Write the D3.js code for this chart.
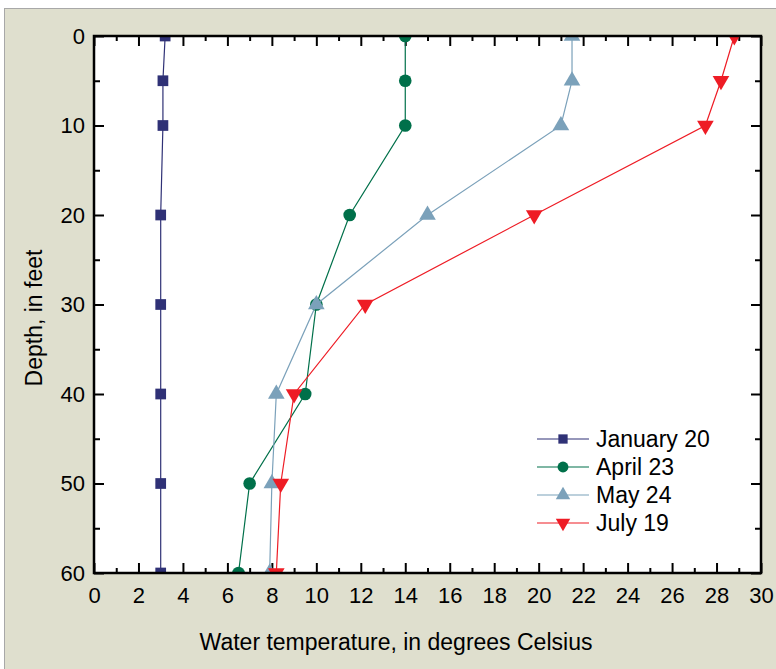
<!DOCTYPE html>
<html>
<head>
<meta charset="utf-8">
<script src="https://cdn.jsdelivr.net/npm/d3@7"></script>
<style>
  body { margin: 0; background: #fff; }
  text { font-family: "Liberation Sans", Arial, sans-serif; fill: #000; }
</style>
</head>
<body>
<div id="chart"></div>
<script>
// Depths sampled (feet) and temperature profiles (deg C)
const depths = [0, 5, 10, 20, 30, 40, 50, 60];
const january20 = [3.2, 3.1, 3.1, 3.0, 3.0, 3.0, 3.0, 3.0];
const april23 = [14.0, 14.0, 14.0, 11.5, 10.0, 9.5, 7.0, 6.5];
const may24 = [21.5, 21.5, 21.0, 15.0, 10.0, 8.2, 8.0, 7.9];
const july19 = [28.8, 28.2, 27.5, 19.8, 12.2, 9.0, 8.4, 8.2];
const seriesNames = ["January 20", "April 23", "May 24", "July 19"];
const xTicks = d3.range(0, 31, 2);
const yTicks = d3.range(0, 61, 10);

const svgWidth = 776;
const svgHeight = 669;
const margin = { top: 36, right: 15, bottom: 96, left: 94 };
const width = 761 - margin.left;
const height = 573 - margin.top;

const series = [
  { name: seriesNames[0], values: january20, color: "#2f3176", shape: d3.symbolSquare, size: 115, rot: 0 },
  { name: seriesNames[1], values: april23, color: "#00704a", shape: d3.symbolCircle, size: 125, rot: 0 },
  { name: seriesNames[2], values: may24, color: "#7ba1ba", shape: d3.symbolTriangle, size: 120, rot: 0 },
  { name: seriesNames[3], values: july19, color: "#ee1c25", shape: d3.symbolTriangle, size: 120, rot: 180 }
];

const svg = d3.select("#chart").append("svg")
  .attr("width", svgWidth)
  .attr("height", svgHeight);

// outer frame
svg.append("rect").attr("x", 0).attr("y", 0).attr("width", svgWidth).attr("height", svgHeight).attr("fill", "#fff");
svg.append("rect").attr("x", 4.5).attr("y", 8.5).attr("width", svgWidth).attr("height", svgHeight)
  .attr("fill", "#dfdfce").attr("stroke", "#a8a8a8").attr("stroke-width", 1);

const g = svg.append("g").attr("transform", `translate(${margin.left},${margin.top})`);

g.append("rect").attr("width", width).attr("height", height).attr("fill", "#fff");

const x = d3.scaleLinear().domain([0, 30]).range([0, width]);
const y = d3.scaleLinear().domain([0, 60]).range([0, height]);

g.append("clipPath").attr("id", "clip")
  .append("rect").attr("width", width).attr("height", height);

// ticks (inward on all four sides)
const tickStyle = sel => {
  sel.select(".domain").remove();
  sel.selectAll("line").attr("stroke", "#000").attr("stroke-width", 2);
};
const minorX = d3.range(1, 30, 2);
const minorY = d3.range(5, 60, 10);

g.append("g").attr("transform", `translate(0,${height})`)
  .call(d3.axisBottom(x).tickValues(xTicks).tickSize(-10).tickPadding(14).tickFormat(d3.format("d")))
  .call(tickStyle)
  .attr("font-size", 22)
  .attr("font-family", null)
  .call(a => a.selectAll("text").attr("dy", "0.71em"));
g.append("g").attr("transform", `translate(0,${height})`)
  .call(d3.axisBottom(x).tickValues(minorX).tickSize(-5).tickFormat(""))
  .call(tickStyle);
g.append("g")
  .call(d3.axisTop(x).tickValues(xTicks).tickSize(-10).tickFormat(""))
  .call(tickStyle);
g.append("g")
  .call(d3.axisTop(x).tickValues(minorX).tickSize(-5).tickFormat(""))
  .call(tickStyle);

g.append("g")
  .call(d3.axisLeft(y).tickValues(yTicks).tickSize(-10).tickPadding(9).tickFormat(d3.format("d")))
  .call(tickStyle)
  .attr("font-size", 22)
  .attr("font-family", null);
g.append("g")
  .call(d3.axisLeft(y).tickValues(minorY).tickSize(-6).tickFormat(""))
  .call(tickStyle);
g.append("g").attr("transform", `translate(${width},0)`)
  .call(d3.axisRight(y).tickValues(yTicks).tickSize(-10).tickFormat(""))
  .call(tickStyle);
g.append("g").attr("transform", `translate(${width},0)`)
  .call(d3.axisRight(y).tickValues(minorY).tickSize(-6).tickFormat(""))
  .call(tickStyle);

// series lines and markers
const line = d3.line()
  .x(d => x(d.t))
  .y(d => y(d.depth));

const plot = g.append("g").attr("clip-path", "url(#clip)");

series.forEach(s => {
  const pts = depths.map((d, i) => ({ depth: d, t: s.values[i] }));
  plot.append("path")
    .datum(pts)
    .attr("d", line)
    .attr("fill", "none")
    .attr("stroke", s.color)
    .attr("stroke-width", 1.2);
  plot.selectAll(null)
    .data(pts)
    .enter()
    .append("path")
    .attr("d", d3.symbol().type(s.shape).size(s.size))
    .attr("transform", d => `translate(${x(d.t)},${y(d.depth)}) rotate(${s.rot})`)
    .attr("fill", s.color);
});

// plot frame
g.append("rect").attr("width", width).attr("height", height)
  .attr("fill", "none").attr("stroke", "#000").attr("stroke-width", 2.5);

// legend
const legend = g.append("g").attr("transform", `translate(${537 - margin.left},${439 - margin.top})`);
series.forEach((s, i) => {
  const row = legend.append("g").attr("transform", `translate(0,${i * 28})`);
  row.append("line").attr("x1", 0).attr("x2", 52).attr("y1", 0).attr("y2", 0)
    .attr("stroke", s.color).attr("stroke-width", 1.2);
  row.append("path")
    .attr("d", d3.symbol().type(s.shape).size(s.size * 0.75))
    .attr("transform", `translate(26,0) rotate(${s.rot})`)
    .attr("fill", s.color);
  row.append("text").attr("x", 59).attr("y", 0).attr("dy", "0.35em")
    .style("font-size", "23px").text(s.name);
});

// axis titles
svg.append("text")
  .attr("x", 396).attr("y", 650)
  .attr("text-anchor", "middle")
  .style("font-size", "23px")
  .text("Water temperature, in degrees Celsius");

svg.append("text")
  .attr("transform", "translate(34,318) rotate(-90)")
  .attr("text-anchor", "middle")
  .attr("dy", "0.35em")
  .style("font-size", "23px")
  .text("Depth, in feet");
</script>
</body>
</html>
